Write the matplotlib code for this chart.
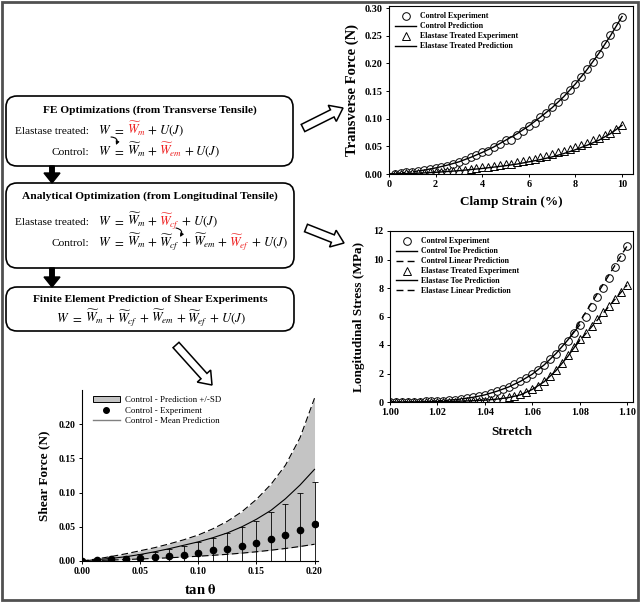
import matplotlib
matplotlib.use('Agg')
import matplotlib.pyplot as plt
from matplotlib.patches import FancyBboxPatch, FancyArrow, Rectangle, Patch
from matplotlib.lines import Line2D

plt.rcParams['font.family'] = ['Liberation Serif', 'DejaVu Serif']
plt.rcParams['mathtext.fontset'] = 'stix'

RED = '#ee2020'

# --- transverse tensile (top right) ---
trans_strain = [0.25, 0.5, 0.75, 1.0, 1.25, 1.5, 1.75, 2.0, 2.25, 2.5, 2.75, 3.0, 3.25, 3.5,
                3.75, 4.0, 4.25, 4.5, 4.75, 5.0, 5.25, 5.5, 5.75, 6.0, 6.25, 6.5, 6.75, 7.0,
                7.25, 7.5, 7.75, 8.0, 8.25, 8.5, 8.75, 9.0, 9.25, 9.5, 9.75, 10.0]
ctrl_trans_exp = [0.000, 0.002, 0.003, 0.004, 0.005, 0.007, 0.009, 0.011, 0.013, 0.015, 0.018,
                  0.022, 0.026, 0.031, 0.034, 0.040, 0.042, 0.048, 0.055, 0.062, 0.061, 0.071,
                  0.078, 0.087, 0.092, 0.104, 0.110, 0.121, 0.130, 0.141, 0.152, 0.163, 0.175,
                  0.190, 0.203, 0.218, 0.236, 0.252, 0.268, 0.285]
elas_trans_exp = [0.000, 0.000, 0.001, 0.001, 0.002, 0.002, 0.003, 0.003, 0.004, 0.005, 0.005,
                  0.007, 0.008, 0.009, 0.011, 0.012, 0.013, 0.014, 0.016, 0.018, 0.019, 0.021,
                  0.023, 0.026, 0.028, 0.031, 0.033, 0.036, 0.039, 0.042, 0.045, 0.049, 0.053,
                  0.057, 0.061, 0.066, 0.070, 0.075, 0.081, 0.088]
pred_strain = [0, 0.5, 1, 1.5, 2, 2.5, 3, 3.5, 4, 4.5, 5, 5.5, 6, 6.5, 7, 7.5, 8, 8.5, 9, 9.5, 10]
ctrl_trans_pred = [0.0, 0.002, 0.004, 0.007, 0.011, 0.016, 0.022, 0.030, 0.039, 0.049, 0.061,
                   0.073, 0.087, 0.103, 0.120, 0.140, 0.163, 0.189, 0.218, 0.250, 0.285]
elas_trans_pred = [0.0, 0.0005, 0.001, 0.002, 0.003, 0.0045, 0.006, 0.008, 0.010, 0.0125, 0.015,
                   0.018, 0.022, 0.026, 0.031, 0.037, 0.044, 0.052, 0.061, 0.073, 0.088]

# --- longitudinal tensile (middle right) ---
stretch = [1.0000, 1.0025, 1.0050, 1.0075, 1.0100, 1.0125, 1.0150, 1.0175, 1.0200, 1.0225,
           1.0250, 1.0275, 1.0300, 1.0325, 1.0350, 1.0375, 1.0400, 1.0425, 1.0450, 1.0475,
           1.0500, 1.0525, 1.0550, 1.0575, 1.0600, 1.0625, 1.0650, 1.0675, 1.0700, 1.0725,
           1.0750, 1.0775, 1.0800, 1.0825, 1.0850, 1.0875, 1.0900, 1.0925, 1.0950, 1.0975, 1.1000]
ctrl_long_exp = [0.00, 0.00, 0.01, 0.02, 0.03, 0.03, 0.05, 0.06, 0.08, 0.10, 0.13, 0.17, 0.21,
                 0.26, 0.33, 0.40, 0.50, 0.61, 0.75, 0.90, 1.05, 1.25, 1.45, 1.70, 1.98, 2.28,
                 2.62, 3.00, 3.40, 3.85, 4.30, 4.85, 5.40, 6.00, 6.65, 7.35, 8.00, 8.70, 9.45,
                 10.20, 10.95]
elas_long_exp = [0.00, 0.00, 0.00, 0.00, 0.01, 0.01, 0.01, 0.02, 0.02, 0.02, 0.03, 0.03, 0.04,
                 0.05, 0.06, 0.08, 0.10, 0.14, 0.19, 0.25, 0.33, 0.43, 0.55, 0.70, 0.90, 1.15,
                 1.45, 1.80, 2.25, 2.75, 3.30, 3.85, 4.40, 4.85, 5.35, 5.80, 6.30, 6.75, 7.25,
                 7.70, 8.20]
toe_stretch = [1.000, 1.005, 1.010, 1.015, 1.020, 1.025, 1.030, 1.035, 1.040, 1.045, 1.050,
               1.055, 1.060, 1.065, 1.070, 1.075, 1.080]
ctrl_toe = [0.0, 0.01, 0.025, 0.045, 0.08, 0.13, 0.21, 0.33, 0.50, 0.75, 1.05, 1.45, 1.95,
            2.60, 3.40, 4.35, 5.40]
elas_toe = [0.0, 0.0, 0.01, 0.02, 0.03, 0.04, 0.06, 0.09, 0.13, 0.20, 0.31, 0.50, 0.88,
            1.42, 2.20, 3.20, 4.35]
ctrl_lin_stretch = [1.076, 1.100]
ctrl_lin = [4.55, 10.95]
elas_lin_stretch = [1.078, 1.100]
elas_lin = [3.90, 8.20]

# --- shear prediction (bottom left) ---
tan_theta = [0.0, 0.0125, 0.025, 0.0375, 0.05, 0.0625, 0.075, 0.0875, 0.1, 0.1125, 0.125,
             0.1375, 0.15, 0.1625, 0.175, 0.1875, 0.2]
shear_exp = [0.0, 0.001, 0.0025, 0.0035, 0.0045, 0.006, 0.008, 0.0093, 0.012, 0.016, 0.018,
             0.022, 0.027, 0.032, 0.038, 0.046, 0.054]
shear_sd = [0.0, 0.0015, 0.0025, 0.004, 0.0053, 0.007, 0.0096, 0.012, 0.016, 0.018, 0.023,
            0.027, 0.032, 0.039, 0.045, 0.054, 0.062]
shear_mean = [0.0, 0.002, 0.0038, 0.0062, 0.0095, 0.0135, 0.018, 0.023, 0.028, 0.034, 0.041,
              0.050, 0.061, 0.074, 0.091, 0.111, 0.134]
shear_upper = [0.0, 0.003, 0.0065, 0.0105, 0.015, 0.0195, 0.025, 0.031, 0.038, 0.047, 0.058,
               0.072, 0.090, 0.112, 0.140, 0.180, 0.238]
shear_lower = [0.0, 0.0007, 0.0014, 0.0021, 0.003, 0.0038, 0.0047, 0.0058, 0.007, 0.0083,
               0.0098, 0.0115, 0.0135, 0.0158, 0.0183, 0.0212, 0.0245]

W, H = 640, 602
fig = plt.figure(figsize=(W / 100, H / 100), dpi=100)

# background axes in pixel units for the flow chart
bg = fig.add_axes([0, 0, 1, 1])
bg.set_xlim(0, W)
bg.set_ylim(H, 0)
bg.axis('off')
bg.add_patch(Rectangle((1.5, 1.5), W - 3.5, H - 3.5, fill=False, ec='#505050', lw=2))

for (x0, y0, x1, y1) in [(6, 96, 293, 166), (6, 183, 294, 268), (6, 287, 294, 331)]:
    bg.add_patch(FancyBboxPatch((x0, y0), x1 - x0, y1 - y0,
                                boxstyle='round,pad=0,rounding_size=11',
                                fc='white', ec='black', lw=1.2))

renderer = fig.canvas.get_renderer()
GAP = 1.5
FS = 8.2
FSM = 9.2


def put_line(x, y, parts, ha='left', size=FSM):
    objs = [bg.text(0, y, s, color=c, fontsize=size, va='baseline', ha='left') for s, c in parts]
    widths = [t.get_window_extent(renderer).width for t in objs]
    total = sum(widths) + GAP * (len(objs) - 1)
    if ha == 'center':
        x -= total / 2
    for t, w in zip(objs, widths):
        t.set_x(x)
        x += w + GAP


def eq(*terms):
    # terms: list of (latex, colour) joined with +
    parts = [(r'$W$', 'k'), (r'$=$', 'k')]
    for i, (s, c) in enumerate(terms):
        if i:
            parts.append((r'$+$', 'k'))
        parts.append((s, c))
    return parts


Wm = r'$\widetilde{W}_m$'
Wcf = r'$\widetilde{W}_{cf}$'
Wem = r'$\widetilde{W}_{em}$'
Wef = r'$\widetilde{W}_{ef}$'
UJ = r'$U(J)$'

# box 1
bg.text(150, 113, 'FE Optimizations (from Transverse Tensile)', fontsize=FS,
        fontweight='bold', ha='center', va='baseline')
bg.text(89, 134, 'Elastase treated:', fontsize=FS, ha='right', va='baseline')
put_line(98, 134, eq((Wm, RED), (UJ, 'k')))
bg.text(89, 155, 'Control:', fontsize=FS, ha='right', va='baseline')
put_line(98, 155, eq((Wm, 'k'), (Wem, RED), (UJ, 'k')))

# box 2
bg.text(150, 199, 'Analytical Optimization (from Longitudinal Tensile)', fontsize=FS,
        fontweight='bold', ha='center', va='baseline')
bg.text(89, 225, 'Elastase treated:', fontsize=FS, ha='right', va='baseline')
put_line(98, 225, eq((Wm, 'k'), (Wcf, RED), (UJ, 'k')))
bg.text(89, 246, 'Control:', fontsize=FS, ha='right', va='baseline')
put_line(98, 246, eq((Wm, 'k'), (Wcf, 'k'), (Wem, 'k'), (Wef, RED), (UJ, 'k')))

# box 3
bg.text(150, 302, 'Finite Element Prediction of Shear Experiments', fontsize=FS,
        fontweight='bold', ha='center', va='baseline')
put_line(151, 322, eq((Wm, 'k'), (Wcf, 'k'), (Wem, 'k'), (Wef, 'k'), (UJ, 'k')), ha='center')

# small curved arrows between equations
bg.annotate('', xy=(116, 145), xytext=(111, 137),
            arrowprops=dict(arrowstyle='-|>', connectionstyle='arc3,rad=-0.7',
                            lw=0.8, color='k', mutation_scale=5, shrinkA=0, shrinkB=0))
bg.annotate('', xy=(180, 237), xytext=(176, 228),
            arrowprops=dict(arrowstyle='-|>', connectionstyle='arc3,rad=-0.7',
                            lw=0.8, color='k', mutation_scale=5, shrinkA=0, shrinkB=0))

# solid arrows between boxes
for y0, y1 in [(166, 183), (268, 287)]:
    bg.add_patch(FancyArrow(52, y0, 0, y1 - y0, width=4.5, head_width=16, head_length=10,
                            length_includes_head=True, fc='black', ec='black'))

# hollow arrows to plots
for (xa, ya, xb, yb) in [(303, 128, 343, 108), (306, 228, 344, 243), (176, 345, 212, 385)]:
    bg.add_patch(FancyArrow(xa, ya, xb - xa, yb - ya, width=8, head_width=18, head_length=12,
                            length_includes_head=True, fc='white', ec='black', lw=1.1))


def px_axes(left, top, right, bottom):
    return fig.add_axes([left / W, (H - bottom) / H, (right - left) / W, (bottom - top) / H])


def style(ax, size=7.3):
    ax.tick_params(labelsize=size, length=2.5, width=0.7, direction='out', pad=2)
    for lab in ax.get_xticklabels() + ax.get_yticklabels():
        lab.set_fontweight('bold')
    for s in ax.spines.values():
        s.set_linewidth(0.8)


mk = dict(mfc='white', mec='black', mew=0.7, ms=5.5, ls='none')
leg_kw = dict(loc='upper left', frameon=False, prop={'size': 5.7, 'weight': 'bold'},
              handlelength=2.6, labelspacing=0.25, borderaxespad=0.4, handletextpad=0.5)

# transverse plot
ax1 = px_axes(389, 6, 633, 174)
ax1.plot(trans_strain, ctrl_trans_exp, marker='o', label='Control Experiment', **mk)
ax1.plot(pred_strain, ctrl_trans_pred, color='black', lw=1, label='Control Prediction')
ax1.plot(trans_strain, elas_trans_exp, marker='^', label='Elastase Treated Experiment', **mk)
ax1.plot(pred_strain, elas_trans_pred, color='black', lw=1, label='Elastase Treated Prediction')
ax1.set_xlim(0, 10.47)
ax1.set_ylim(0, 0.304)
ax1.set_xticks([0, 2, 4, 6, 8, 10])
ax1.set_yticks([0, 0.05, 0.10, 0.15, 0.20, 0.25, 0.30])
ax1.set_yticklabels(['0.00', '0.05', '0.10', '0.15', '0.20', '0.25', '0.30'])
ax1.set_xlabel('Clamp Strain (%)', fontsize=9.5, fontweight='bold', labelpad=5)
ax1.set_ylabel('Transverse Force (N)', fontsize=10.5, fontweight='bold', labelpad=4)
ax1.legend(**leg_kw)
style(ax1)

# longitudinal plot
ax2 = px_axes(390, 231, 633, 402)
ax2.plot(stretch, ctrl_long_exp, marker='o', label='Control Experiment', **mk)
ax2.plot(toe_stretch, ctrl_toe, color='black', lw=1, label='Control Toe Prediction')
ax2.plot(ctrl_lin_stretch, ctrl_lin, color='black', lw=1, ls=(0, (5, 3)),
         label='Control Linear Prediction')
ax2.plot(stretch, elas_long_exp, marker='^', label='Elastase Treated Experiment', **mk)
ax2.plot(toe_stretch, elas_toe, color='black', lw=1, label='Elastase Toe Prediction')
ax2.plot(elas_lin_stretch, elas_lin, color='black', lw=1, ls=(0, (5, 3)),
         label='Elastase Linear Prediction')
ax2.set_xlim(1.0, 1.1025)
ax2.set_ylim(0, 12)
ax2.set_xticks([1.00, 1.02, 1.04, 1.06, 1.08, 1.10])
ax2.set_xticklabels(['1.00', '1.02', '1.04', '1.06', '1.08', '1.10'])
ax2.set_yticks([0, 2, 4, 6, 8, 10, 12])
ax2.set_xlabel('Stretch', fontsize=9.5, fontweight='bold', labelpad=6)
ax2.set_ylabel('Longitudinal Stress (MPa)', fontsize=9.5, fontweight='bold', labelpad=6)
ax2.legend(**leg_kw)
style(ax2)

# shear plot
ax3 = px_axes(82, 390, 318, 561)
ax3.fill_between(tan_theta, shear_lower, shear_upper, color='#c4c4c4', lw=0)
ax3.plot(tan_theta, shear_upper, color='black', lw=0.8, ls=(0, (6, 3)))
ax3.plot(tan_theta, shear_lower, color='black', lw=0.8, ls=(0, (6, 3)))
ax3.plot(tan_theta, shear_mean, color='black', lw=0.8)
ax3.errorbar(tan_theta, shear_exp, yerr=shear_sd, fmt='o', color='black', ms=4.5,
             elinewidth=0.6, capsize=2.5, capthick=0.6)
ax3.set_xlim(0, 0.203)
ax3.set_ylim(0, 0.25)
ax3.set_xticks([0, 0.05, 0.10, 0.15, 0.20])
ax3.set_xticklabels(['0.00', '0.05', '0.10', '0.15', '0.20'])
ax3.set_yticks([0, 0.05, 0.10, 0.15, 0.20])
ax3.set_yticklabels(['0.00', '0.05', '0.10', '0.15', '0.20'])
ax3.spines['top'].set_visible(False)
ax3.spines['right'].set_visible(False)
ax3.set_xlabel(r'tan $\mathbf{\theta}$', fontsize=10.5, fontweight='bold', labelpad=5)
ax3.set_ylabel('Shear Force (N)', fontsize=9.5, fontweight='bold', labelpad=6)
handles = [Patch(fc='#c4c4c4', ec='black', lw=0.7),
           Line2D([], [], marker='o', color='black', ls='none', ms=4),
           Line2D([], [], color='#808080', lw=1)]
ax3.legend(handles, ['Control - Prediction +/-SD', 'Control - Experiment',
                     'Control - Mean Prediction'], loc='upper left', frameon=False,
           prop={'size': 6.4}, handlelength=3, labelspacing=0.25, borderaxespad=0.3,
           bbox_to_anchor=(0.02, 1.0), handletextpad=0.6)
style(ax3, 7)

fig.savefig('out.png', dpi=100)
